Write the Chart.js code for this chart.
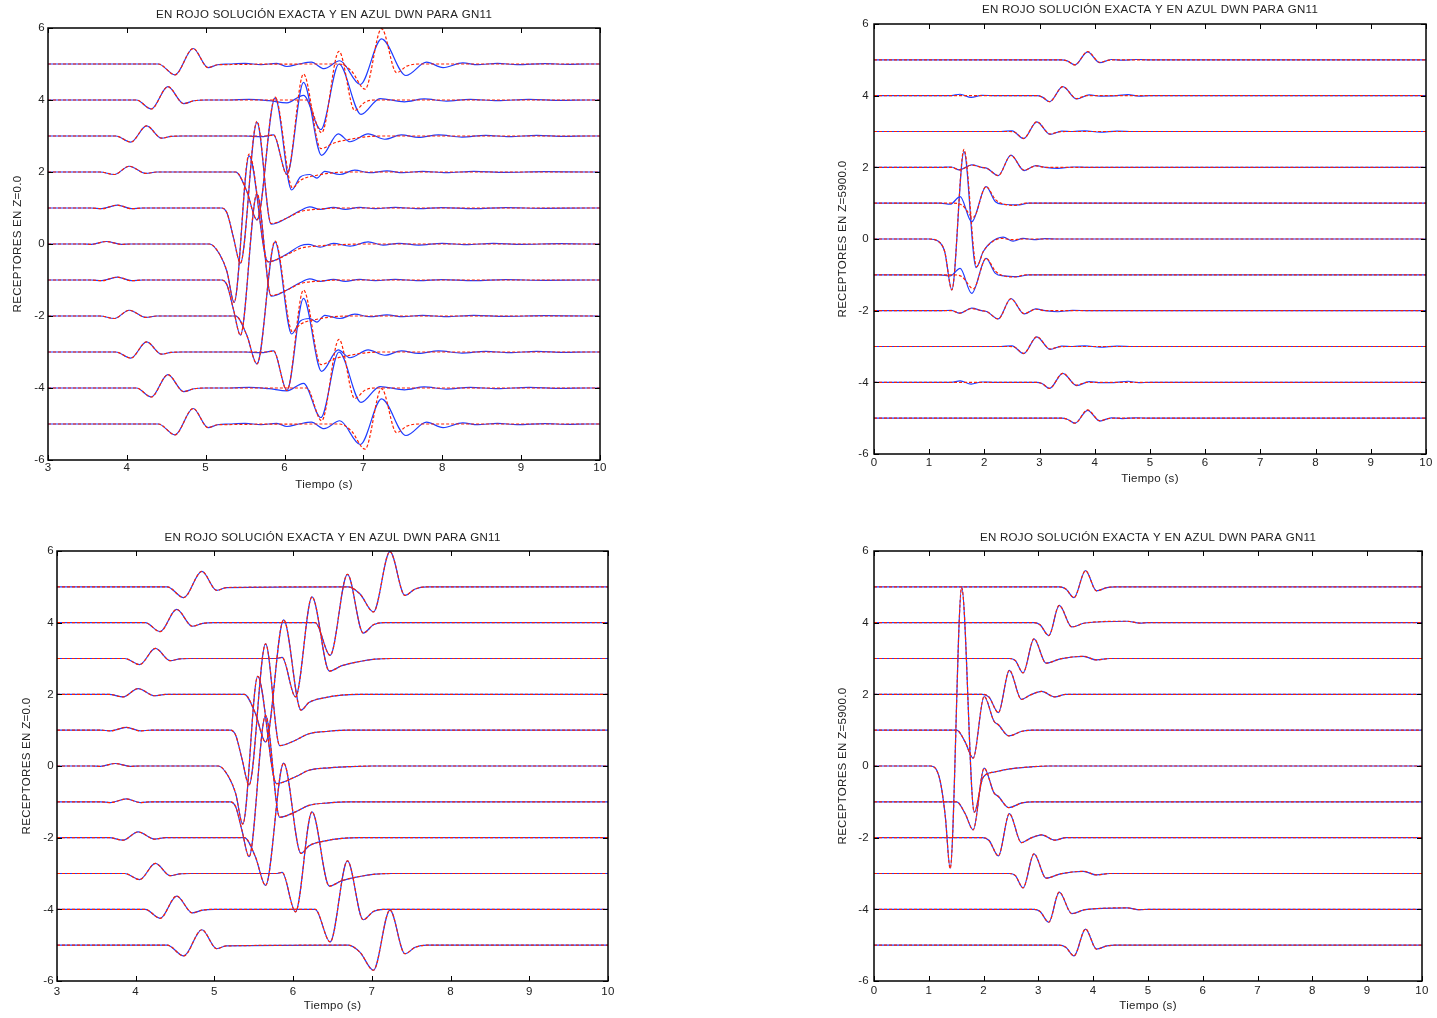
<!DOCTYPE html>
<html>
<head>
<meta charset="utf-8">
<script src="https://cdn.jsdelivr.net/npm/chart.js@4.4.1/dist/chart.umd.min.js"></script>
<style>
  html, body { margin: 0; padding: 0; background: #fff; width: 1437px; height: 1018px; overflow: hidden; }
  canvas { position: absolute; }
</style>
</head>
<body>
<canvas id="c1" width="718" height="509" style="left:0px;top:0px"></canvas>
<canvas id="c2" width="719" height="509" style="left:718px;top:0px"></canvas>
<canvas id="c3" width="718" height="509" style="left:0px;top:509px"></canvas>
<canvas id="c4" width="719" height="509" style="left:718px;top:509px"></canvas>
<script>
// ---------------------------------------------------------------
// Seismograms: 11 receivers, each trace offset by its receiver index.
// Waveforms are stored as [time (s), amplitude] pairs, indexed by |receiver|
// (the array is symmetric about the central receiver).
// ---------------------------------------------------------------
const TITLE = 'EN ROJO SOLUCIÓN EXACTA Y EN AZUL DWN PARA GN11';
const receivers = [5, 4, 3, 2, 1, 0, -1, -2, -3, -4, -5];
const yTicks = [-6, -4, -2, 0, 2, 4, 6];
const xTicksShallow = [3, 4, 5, 6, 7, 8, 9, 10];
const xTicksDeep = [0, 1, 2, 3, 4, 5, 6, 7, 8, 9, 10];

// Receivers at Z=0.0 : direct arrival (identical in both solutions)
const shallowDirect = [
  [[3.45,0],[3.55,-0.01],[3.74,0.07],[3.93,-0.01],[4.05,0]],
  [[3.55,0],[3.68,-0.02],[3.88,0.08],[4.06,-0.02],[4.2,0]],
  [[3.66,0],[3.84,-0.07],[4.03,0.16],[4.24,-0.04],[4.38,0]],
  [[3.86,0],[4.05,-0.17],[4.25,0.28],[4.44,-0.06],[4.56,-0.01],[4.7,0]],
  [[4.12,0],[4.31,-0.25],[4.52,0.37],[4.72,-0.1],[4.85,-0.02],[5.0,0]],
  [[4.40,0],[4.61,-0.30],[4.84,0.43],[5.03,-0.10],[5.15,-0.02]]
];
// Receivers at Z=0.0 : main arrival, exact solution
const shallowExactLate = [
  [[5.05,0],[5.18,-0.3],[5.27,-0.77],[5.36,-1.62],[5.55,2.5],[5.79,-0.49],[6.03,-0.3],[6.2,-0.12],[6.45,-0.05],[6.7,-0.02],[7.0,0]],
  [[5.2,0],[5.27,-0.14],[5.35,-0.8],[5.44,-1.53],[5.65,2.41],[5.83,-0.43],[6.03,-0.28],[6.2,-0.1],[6.45,-0.03],[6.7,0]],
  [[5.38,0],[5.52,-0.53],[5.65,-1.33],[5.88,2.08],[6.1,-0.44],[6.2,-0.23],[6.41,-0.09],[6.62,-0.02],[6.85,0]],
  [[5.78,0],[5.86,0.03],[6.03,-1.07],[6.24,1.72],[6.46,-0.35],[6.62,-0.2],[6.83,-0.09],[7.04,-0.02],[7.25,0]],
  [[6.28,0],[6.47,-0.91],[6.69,1.35],[6.89,-0.29],[7.02,-0.06],[7.15,0]],
  [[6.7,0],[6.85,-0.2],[7.02,-0.70],[7.23,0.98],[7.42,-0.24],[7.55,-0.06],[7.7,0]]
];
// Receivers at Z=0.0 : main arrival, DWN solution
const shallowDwnLate = [
  [[5.05,0],[5.18,-0.3],[5.27,-0.77],[5.36,-1.62],[5.55,2.45],[5.79,-0.5],[6.03,-0.28],[6.2,-0.05],[6.3,-0.01],[6.45,-0.09],[6.62,0.02],[6.83,-0.06],[7.06,0.06],[7.25,-0.03],[7.45,0.02],[7.7,-0.03],[8.0,0.02],[8.3,-0.02],[8.65,0.02],[9.0,-0.01],[9.5,0.01],[9.85,0]],
  [[5.2,0],[5.27,-0.14],[5.35,-0.8],[5.44,-1.53],[5.65,2.38],[5.83,-0.45],[6.03,-0.28],[6.2,-0.07],[6.32,0.03],[6.45,-0.04],[6.62,0.02],[6.77,-0.04],[6.95,0.02],[7.15,-0.02],[7.4,0.02],[7.7,-0.02],[8.0,0.01],[8.4,-0.02],[8.8,0.01],[9.3,-0.01],[9.85,0]],
  [[5.38,0],[5.52,-0.53],[5.65,-1.33],[5.88,2.06],[6.09,-0.5],[6.2,-0.14],[6.32,-0.07],[6.41,-0.17],[6.51,0.02],[6.70,-0.07],[6.89,0.05],[7.08,-0.02],[7.3,0.03],[7.5,-0.02],[7.75,0.02],[8.05,-0.02],[8.4,0.02],[8.8,-0.01],[9.3,0.01],[9.85,0]],
  [[5.5,0],[5.7,-0.02],[5.86,0.03],[6.03,-1.07],[6.24,1.49],[6.47,-0.54],[6.68,0.06],[6.83,-0.16],[7.06,0.06],[7.27,-0.09],[7.48,0.03],[7.7,-0.04],[7.95,0.03],[8.25,-0.03],[8.55,0.02],[8.85,-0.02],[9.2,0.02],[9.55,-0.01],[9.85,0]],
  [[5.3,0],[5.55,0.02],[5.8,-0.02],[6.03,-0.08],[6.24,0.13],[6.46,-0.82],[6.69,1.0],[6.97,-0.4],[7.21,0.04],[7.52,-0.05],[7.77,0.03],[8.05,-0.03],[8.35,0.02],[8.7,-0.02],[9.1,0.02],[9.5,-0.01],[9.85,0]],
  [[5.3,0],[5.5,0.02],[5.7,-0.02],[5.9,0.02],[6.03,-0.07],[6.18,0.0],[6.34,0.05],[6.5,-0.13],[6.70,0.09],[6.96,-0.57],[7.23,0.70],[7.54,-0.32],[7.80,0.05],[8.01,-0.10],[8.26,0.03],[8.45,-0.02],[8.7,0.02],[8.95,-0.02],[9.3,0.01],[9.6,-0.01],[9.85,0]]
];

// Receivers at Z=5900.0, upper run : exact solution
const deepExact = [
  [[1.0,0],[1.15,-0.05],[1.28,-0.35],[1.41,-1.42],[1.63,2.50],[1.86,-0.77],[1.98,-0.35],[2.1,-0.13],[2.3,0.02],[2.5,-0.02],[2.7,0]],
  [[1.45,0],[1.6,-0.06],[1.80,-0.39],[2.03,0.46],[2.2,0.1],[2.35,-0.03],[2.55,-0.06],[2.75,0]],
  [[1.4,0],[1.55,-0.07],[1.77,0.06],[1.95,0],[2.05,-0.03],[2.25,-0.23],[2.48,0.33],[2.72,-0.08],[2.93,0.04],[3.1,0]],
  [[2.45,0],[2.55,-0.02],[2.71,-0.19],[2.95,0.27],[3.19,-0.07],[3.35,-0.01],[3.5,0]],
  [[2.95,0],[3.05,-0.04],[3.18,-0.17],[3.42,0.25],[3.67,-0.08],[3.85,0],[4.1,0]],
  [[3.40,0],[3.5,-0.03],[3.64,-0.14],[3.87,0.23],[4.09,-0.07],[4.25,-0.01],[4.4,0]]
];
// Receivers at Z=5900.0, upper run : DWN solution
const deepDwn = [
  [[1.0,0],[1.15,-0.05],[1.28,-0.35],[1.41,-1.42],[1.63,2.44],[1.85,-0.8],[1.98,-0.35],[2.1,-0.12],[2.34,0.05],[2.52,-0.06],[2.7,0.02],[2.9,-0.02],[3.1,0.01],[3.35,0]],
  [[1.2,0],[1.38,-0.03],[1.56,0.18],[1.77,-0.52],[2.03,0.46],[2.2,0.04],[2.35,-0.03],[2.6,-0.05],[2.8,0]],
  [[1.2,0],[1.4,0.01],[1.55,-0.07],[1.77,0.07],[1.95,0],[2.05,-0.03],[2.25,-0.23],[2.48,0.34],[2.72,-0.09],[2.93,0.05],[3.1,0],[3.33,-0.03],[3.6,0.01],[3.9,0]],
  [[2.3,0],[2.5,0.02],[2.71,-0.2],[2.95,0.27],[3.19,-0.08],[3.4,0.01],[3.6,0],[3.82,0.02],[4.1,-0.02],[4.4,0.01],[4.7,0]],
  [[1.4,0],[1.56,0.04],[1.76,-0.05],[1.95,0.01],[2.2,0],[2.95,0],[3.05,-0.04],[3.18,-0.17],[3.42,0.25],[3.67,-0.09],[3.9,0.02],[4.1,-0.01],[4.4,0],[4.6,0.03],[4.8,-0.01],[5.0,0]],
  [[3.40,0],[3.5,-0.03],[3.64,-0.14],[3.87,0.22],[4.09,-0.08],[4.3,0.01],[4.5,-0.01],[4.75,0.01],[5.0,0]]
];
// Receivers at Z=5900.0, lower run (both solutions coincide)
const deepLower = [
  [[1.03,0],[1.2,-0.37],[1.3,-1.39],[1.39,-2.86],[1.60,4.98],[1.83,-1.29],[1.99,-0.32],[2.19,-0.17],[2.48,-0.08],[2.9,-0.02],[3.2,0]],
  [[1.51,0],[1.66,-0.32],[1.81,-0.78],[2.01,0.94],[2.19,0.25],[2.27,0.15],[2.46,-0.16],[2.7,-0.03],[2.9,0]],
  [[1.98,0],[2.1,-0.08],[2.27,-0.51],[2.47,0.67],[2.69,-0.14],[2.85,-0.02],[3.06,0.08],[3.3,-0.07],[3.5,0]],
  [[2.47,0],[2.58,-0.06],[2.72,-0.40],[2.92,0.55],[3.14,-0.13],[3.4,-0.01],[3.82,0.06],[4.06,-0.04],[4.3,0]],
  [[2.92,0],[3.03,-0.06],[3.19,-0.36],[3.38,0.48],[3.61,-0.12],[3.85,-0.01],[4.62,0.04],[4.85,-0.01],[5.0,0]],
  [[3.38,0],[3.5,-0.06],[3.65,-0.30],[3.86,0.45],[4.06,-0.11],[4.25,-0.02],[4.4,0]]
];

// ---------------------------------------------------------------
const FONT = "'Liberation Sans', Arial, Helvetica, sans-serif";
const TEXT_COLOR = '#222';
const RED = '#ff2200';
const BLUE = '#1f3cff';

// one trace = receiver offset + waveform, flat up to both ends of the time axis
function buildTrace(rec, parts, xMin, xMax) {
  const pts = [].concat(...parts)
    .filter(p => p[0] > xMin && p[0] < xMax)
    .sort((a, b) => a[0] - b[0]);
  const out = [{ x: xMin, y: rec }];
  pts.forEach(p => out.push({ x: p[0], y: rec + p[1] }));
  out.push({ x: xMax, y: rec });
  return out;
}

// box around the axes with inward tick marks
const framePlugin = {
  id: 'frame',
  beforeDraw(chart) { chart.ctx.letterSpacing = '0.3px'; },
  afterDatasetsDraw(chart) {
    const { ctx, chartArea: a, scales } = chart;
    ctx.save();
    ctx.strokeStyle = '#000';
    ctx.lineWidth = 1.5;
    ctx.strokeRect(a.left, a.top, a.right - a.left, a.bottom - a.top);
    ctx.lineWidth = 1;
    ctx.beginPath();
    scales.x.ticks.forEach(t => {
      const px = Math.round(scales.x.getPixelForValue(t.value)) + 0.5;
      ctx.moveTo(px, a.top); ctx.lineTo(px, a.top + 5);
      ctx.moveTo(px, a.bottom); ctx.lineTo(px, a.bottom - 5);
    });
    scales.y.ticks.forEach(t => {
      const py = Math.round(scales.y.getPixelForValue(t.value)) + 0.5;
      ctx.moveTo(a.left, py); ctx.lineTo(a.left + 5, py);
      ctx.moveTo(a.right, py); ctx.lineTo(a.right - 5, py);
    });
    ctx.stroke();
    ctx.restore();
  }
};

function makePanel(p) {
  const reds = receivers.map(r => ({
    data: buildTrace(r, p.exact(Math.abs(r)), p.xMin, p.xMax),
    borderColor: RED, borderWidth: 1.2, borderDash: [3, 2]
  }));
  const blues = receivers.map(r => ({
    data: buildTrace(r, p.dwn(Math.abs(r)), p.xMin, p.xMax),
    borderColor: BLUE, borderWidth: 1.2
  }));
  const tickFont = { family: FONT, size: 11.5 };
  new Chart(document.getElementById(p.id), {
    type: 'line',
    data: { datasets: reds.concat(blues) },
    options: {
      responsive: false, animation: false, events: [], parsing: false, normalized: true,
      layout: { padding: { left: 0, right: p.padRight, top: 0, bottom: 0 } },
      elements: {
        point: { radius: 0 },
        line: { cubicInterpolationMode: 'monotone', fill: false, borderCapStyle: 'butt' }
      },
      plugins: {
        legend: { display: false },
        tooltip: { enabled: false },
        title: {
          display: true, text: TITLE, fullSize: false, color: TEXT_COLOR,
          font: { family: FONT, size: 11.5, weight: 'normal', lineHeight: 1.2 },
          padding: { top: p.titlePad[0], bottom: p.titlePad[1] }
        }
      },
      scales: {
        x: {
          type: 'linear', min: p.xMin, max: p.xMax,
          afterBuildTicks: s => { s.ticks = p.xTicks.map(v => ({ value: v })); },
          afterFit: s => { s.height = p.xHeight; },
          grid: { display: false, drawTicks: false },
          border: { display: false },
          ticks: { padding: p.xTickPad, color: TEXT_COLOR, font: tickFont, autoSkip: false, maxRotation: 0 },
          title: {
            display: true, text: 'Tiempo (s)', color: TEXT_COLOR,
            font: { family: FONT, size: 11.5, lineHeight: 1.2 },
            padding: { top: 0, bottom: p.xTitleBottom }
          }
        },
        y: {
          type: 'linear', min: -6, max: 6,
          afterBuildTicks: s => { s.ticks = yTicks.map(v => ({ value: v })); },
          afterFit: s => { s.width = p.yWidth; },
          grid: { display: false, drawTicks: false },
          border: { display: false },
          ticks: { padding: p.yTickPad, color: TEXT_COLOR, font: tickFont, autoSkip: false },
          title: {
            display: true, text: p.yLabel, color: TEXT_COLOR,
            font: { family: FONT, size: 11.5, lineHeight: 1.2 },
            padding: { top: p.yTitleTop, bottom: 0 }
          }
        }
      }
    },
    plugins: [framePlugin]
  });
}

const shallowExact = k => [shallowDirect[k], shallowExactLate[k]];
const shallowDwn = k => [shallowDirect[k], shallowDwnLate[k]];

makePanel({
  id: 'c1', xMin: 3, xMax: 10, xTicks: xTicksShallow, yLabel: 'RECEPTORES EN Z=0.0',
  exact: shallowExact, dwn: shallowDwn,
  padRight: 118, yWidth: 48, xHeight: 49, titlePad: [7.6, 6.6],
  yTitleTop: 11.1, xTickPad: 0.6, xTitleBottom: 17.1, yTickPad: 3
});
makePanel({
  id: 'c2', xMin: 0, xMax: 10, xTicks: xTicksDeep, yLabel: 'RECEPTORES EN Z=5900.0',
  exact: k => [deepExact[k]], dwn: k => [deepDwn[k]],
  padRight: 11, yWidth: 156, xHeight: 55, titlePad: [3.1, 7.1],
  yTitleTop: 118.1, xTickPad: 1.6, xTitleBottom: 23.1, yTickPad: 5
});
makePanel({
  id: 'c3', xMin: 3, xMax: 10, xTicks: xTicksShallow, yLabel: 'RECEPTORES EN Z=0.0',
  exact: shallowExact, dwn: shallowExact,
  padRight: 110, yWidth: 57, xHeight: 37, titlePad: [21.9, 6.3],
  yTitleTop: 20.1, xTickPad: 3.6, xTitleBottom: 5.1, yTickPad: 3
});
makePanel({
  id: 'c4', xMin: 0, xMax: 10, xTicks: xTicksDeep, yLabel: 'RECEPTORES EN Z=5900.0',
  exact: k => [deepLower[k]], dwn: k => [deepLower[k]],
  padRight: 15, yWidth: 156, xHeight: 37, titlePad: [21.9, 6.3],
  yTitleTop: 118.1, xTickPad: 3.1, xTitleBottom: 5.1, yTickPad: 5
});
</script>
</body>
</html>
